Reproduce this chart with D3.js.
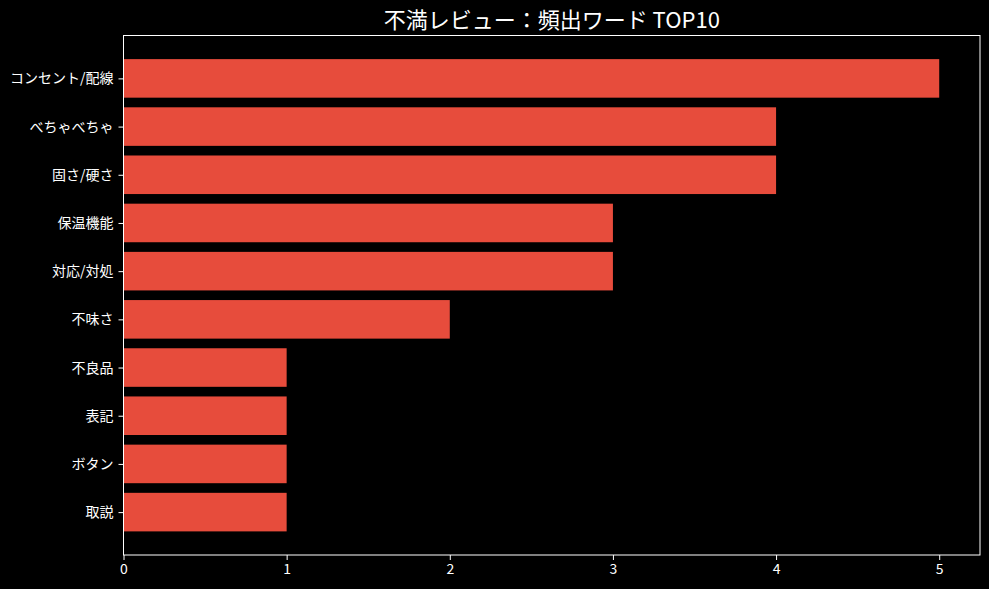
<!DOCTYPE html>
<html><head><meta charset="utf-8">
<script src="https://cdn.jsdelivr.net/npm/d3@7"></script>
<style>html,body{margin:0;padding:0;background:#000;}svg{display:block;}</style>
</head><body>
<script>
const categories = ["コンセント/配線","べちゃべちゃ","固さ/硬さ","保温機能","対応/対処","不味さ","不良品","表記","ボタン","取説"];
const counts = [5,4,4,3,3,2,1,1,1,1];
const xTicks = [0,1,2,3,4,5];
const titleText = "不満レビュー：頻出ワード TOP10";

const W = 989, H = 589;
const m = {left:123.5, right:980, top:35.5, bottom:555};
const font = "'Noto Sans CJK JP','Noto Sans',sans-serif";
const barColor = "#E74C3C";

const svg = d3.select("body").append("svg").attr("width",W).attr("height",H).style("background","#000");

const x = d3.scaleLinear().domain([0, 5.25]).range([m.left, m.right]);
const y = d3.scaleLinear().domain([-0.89, 9.89]).range([m.top, m.bottom]);

svg.append("g").selectAll("rect").data(categories).join("rect")
  .attr("x", x(0))
  .attr("y", (d,i)=>y(i-0.4))
  .attr("width", (d,i)=>x(counts[i])-x(0))
  .attr("height", (d,i)=>y(i+0.4)-y(i-0.4))
  .attr("fill", barColor);

svg.append("rect").attr("x",m.left).attr("y",m.top).attr("width",m.right-m.left).attr("height",m.bottom-m.top)
  .attr("fill","none").attr("stroke","#fff").attr("stroke-width",1);

const xAxis = d3.axisBottom(x).tickValues(xTicks).tickFormat(d3.format("d")).tickSize(5).tickPadding(4);
const gx = svg.append("g").attr("transform",`translate(0,${m.bottom})`).call(xAxis);
gx.select(".domain").remove();
gx.selectAll("line").attr("stroke","#fff");
gx.selectAll("text").attr("fill","#fff").style("font-family",font).style("font-size","14px");

const yAxis = d3.axisLeft(y).tickValues(d3.range(categories.length)).tickFormat(i=>categories[i]).tickSize(5).tickPadding(5);
const gy = svg.append("g").attr("transform",`translate(${m.left},0)`).call(yAxis);
gy.select(".domain").remove();
gy.selectAll("line").attr("stroke","#fff");
gy.selectAll("text").attr("fill","#fff").style("font-family",font).style("font-size","14px");

svg.append("text").attr("x",(m.left+m.right)/2).attr("y",28).attr("text-anchor","middle")
  .attr("fill","#fff").style("font-family",font).style("font-size","22px").text(titleText);
</script>
</body></html>
